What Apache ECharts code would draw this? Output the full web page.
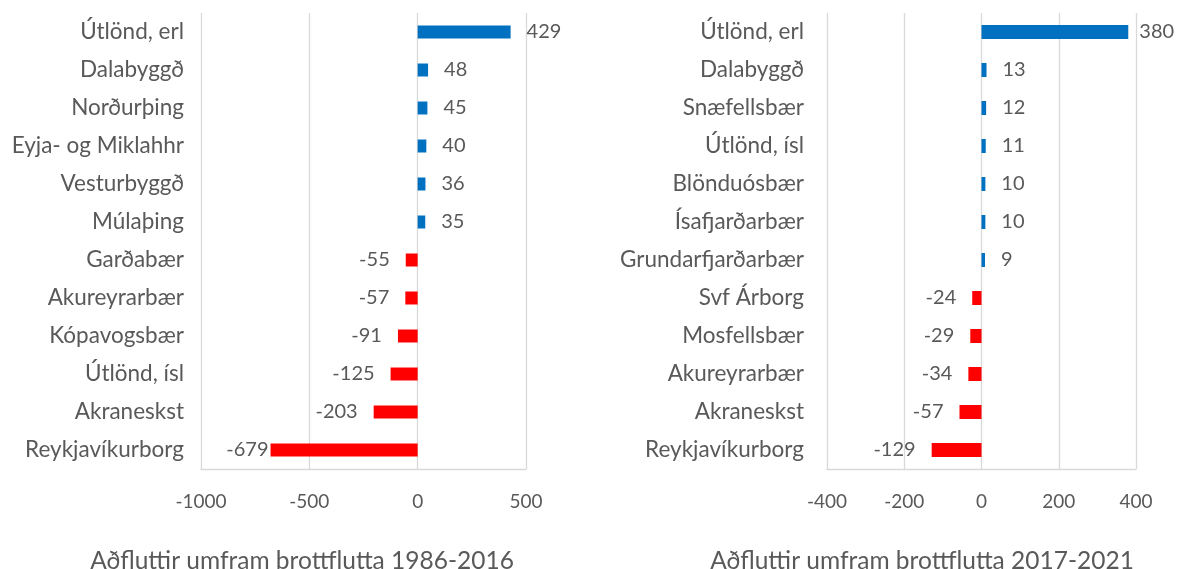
<!DOCTYPE html>
<html>
<head>
<meta charset="utf-8">
<script src="https://cdn.jsdelivr.net/npm/echarts@6/dist/echarts.min.js"></script>
<style>
html,body{margin:0;padding:0;background:#fff;}
#c{width:1179px;height:569px;}
</style>
</head>
<body>
<div id="c"></div>
<script>
const categoriesA = ['Útlönd, erl','Dalabyggð','Norðurþing','Eyja- og Miklahhr','Vesturbyggð','Múlaþing','Garðabær','Akureyrarbær','Kópavogsbær','Útlönd, ísl','Akraneskst','Reykjavíkurborg'];
const valuesA = [429, 48, 45, 40, 36, 35, -55, -57, -91, -125, -203, -679];
const categoriesB = ['Útlönd, erl','Dalabyggð','Snæfellsbær','Útlönd, ísl','Blönduósbær','Ísafjarðarbær','Grundarfjarðarbær','Svf Árborg','Mosfellsbær','Akureyrarbær','Akraneskst','Reykjavíkurborg'];
const valuesB = [380, 13, 12, 11, 10, 10, 9, -24, -29, -34, -57, -129];
const ticksA = [-1000, -500, 0, 500];
const ticksB = [-400, -200, 0, 200, 400];
const titleA = 'Aðfluttir umfram brottflutta 1986-2016';
const titleB = 'Aðfluttir umfram brottflutta 2017-2021';

const FONT = 'Lato';
const TXT = '#595959';
const GRID = '#D9D9D9';
const BLUE = '#0070C0';
const RED = '#FF0000';

function mkData(vals, overrides) {
  return vals.map((v, i) => {
    const d = overrides[i] !== undefined ? overrides[i] : 16;
    return {
      value: v,
      itemStyle: { color: v >= 0 ? BLUE : RED },
      label: { position: v >= 0 ? 'right' : 'left', distance: d }
    };
  });
}

function xAx(idx, ticks) {
  return {
    type: 'value', gridIndex: idx,
    min: ticks[0], max: ticks[ticks.length - 1], interval: ticks[1] - ticks[0],
    axisLine: { show: true, onZero: false, lineStyle: { color: GRID, width: 1.3 } },
    axisTick: { show: false },
    splitLine: { show: true, lineStyle: { color: GRID, width: 1.3 } },
    axisLabel: { color: TXT, fontFamily: FONT, fontSize: 19, margin: 23, formatter: v => String(v) }
  };
}
function yAx(idx, cats, margin) {
  return {
    type: 'category', gridIndex: idx, data: cats, inverse: true,
    axisLine: { show: false }, axisTick: { show: false },
    axisLabel: { color: TXT, fontFamily: FONT, fontSize: 22.5, margin: margin }
  };
}
const labelStyle = { show: true, color: TXT, fontFamily: FONT, fontSize: 20 };
const titleStyle = { color: TXT, fontFamily: FONT, fontSize: 24.5, fontWeight: 'normal' };

const option = {
  animation: false,
  backgroundColor: '#fff',
  title: [
    { text: titleA, left: 297, top: 544, textAlign: 'center', textStyle: titleStyle },
    { text: titleB, left: 917, top: 544, textAlign: 'center', textStyle: titleStyle }
  ],
  grid: [
    { left: 201, right: 1179 - 526, top: 13, bottom: 569 - 469 },
    { left: 827, right: 1179 - 1136, top: 13, bottom: 569 - 469 }
  ],
  xAxis: [xAx(0, ticksA), xAx(1, ticksB)],
  yAxis: [yAx(0, categoriesA, 17), yAx(1, categoriesB, 23)],
  series: [
    { type: 'bar', xAxisIndex: 0, yAxisIndex: 0, barWidth: 13,
      data: mkData(valuesA, { 11: 2 }), label: labelStyle },
    { type: 'bar', xAxisIndex: 1, yAxisIndex: 1, barWidth: 14,
      data: mkData(valuesB, { 0: 11 }), label: labelStyle }
  ]
};
const chart = echarts.init(document.getElementById('c'), null, { renderer: 'canvas' });
chart.setOption(option);
</script>
</body>
</html>
